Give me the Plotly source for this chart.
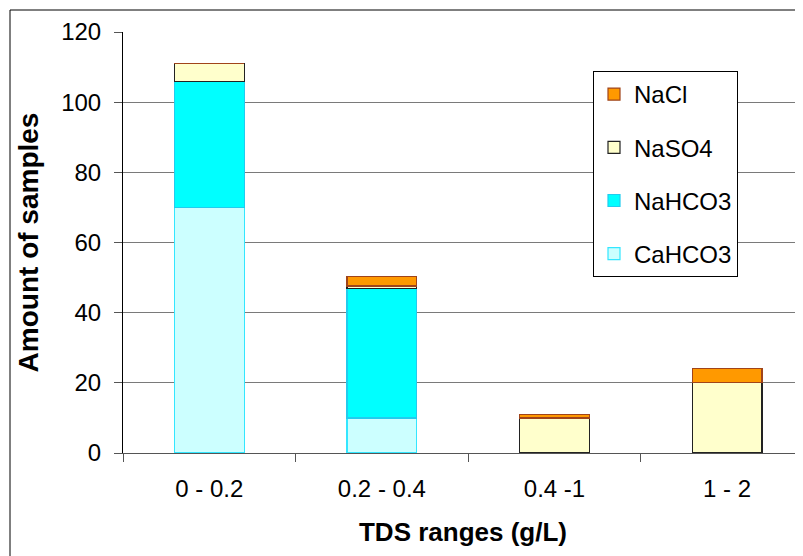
import plotly.graph_objects as go

categories = ["0 - 0.2", "0.2 - 0.4", "0.4 -1", "1 - 2"]
cahco3 = [70, 10, 0, 0]
nahco3 = [36, 37, 0, 0]
naso4 = [5, 0.6, 10, 20]
nacl = [0, 2.6, 1, 4]

series = [
    ("CaHCO3", cahco3, "#CCFFFF", "#33E6FF", 4),
    ("NaHCO3", nahco3, "#00FFFF", "#22CCEE", 3),
    ("NaSO4", naso4, "#FFFFCC", "#222222", 2),
    ("NaCl", nacl, "#FF9900", "#A0441A", 1),
]

fig = go.Figure()
for name, vals, fill, line, rank in series:
    fig.add_trace(go.Bar(
        x=categories, y=vals, name=name, legendgroup=name, legendrank=rank,
        marker=dict(color=fill, line=dict(color=line, width=1.2)),
    ))

# plot area in figure px (page offset of 8px from body margin)
L, R, T, B = 115, 795, 24, 445
W, H = 803, 556
pw, ph = R - L, B - T

font_family = "Liberation Sans, Arial, sans-serif"
fig.update_layout(
    width=W, height=H,
    margin=dict(l=L, r=W - R, t=T, b=H - B),
    barmode="stack", bargap=0.595,
    paper_bgcolor="white", plot_bgcolor="white",
    font=dict(family=font_family, size=24, color="black"),
    showlegend=True,
    legend=dict(
        x=(585 - L) / pw, y=(B - 63) / ph, xanchor="left", yanchor="top",
        bordercolor="black", borderwidth=1, bgcolor="white",
        traceorder="grouped", tracegroupgap=19,
        font=dict(size=24),
    ),
    xaxis=dict(
        range=[-0.5, 3.44], showgrid=False,
        showline=True, linecolor="#555555", linewidth=1,
        ticks="outside", tickson="boundaries", ticklen=8, tickcolor="#555555",
        ticklabelstandoff=14,
        title=dict(text="<b>TDS ranges (g/L)</b>", font=dict(size=26), standoff=22),
        tickfont=dict(size=24),
    ),
    yaxis=dict(
        range=[0, 120], dtick=20,
        showgrid=True, gridcolor="#7a7a7a", gridwidth=1,
        showline=True, linecolor="black", linewidth=1,
        ticks="outside", ticklen=8, tickcolor="#555555",
        ticklabelstandoff=8,
        zeroline=False,
        title=dict(text="<b>Amount of samples</b>", font=dict(size=28), standoff=14),
        tickfont=dict(size=24),
    ),
    shapes=[
        dict(type="line", xref="paper", yref="paper",
             x0=(2 - L) / pw, x1=1.2, y0=(B - 2) / ph, y1=(B - 2) / ph,
             line=dict(color="black", width=1)),
        dict(type="line", xref="paper", yref="paper",
             x0=(2 - L) / pw, x1=(2 - L) / pw, y0=(B - 2) / ph, y1=-0.6,
             line=dict(color="black", width=1)),
    ],
)

fig.write_html("out.html")
